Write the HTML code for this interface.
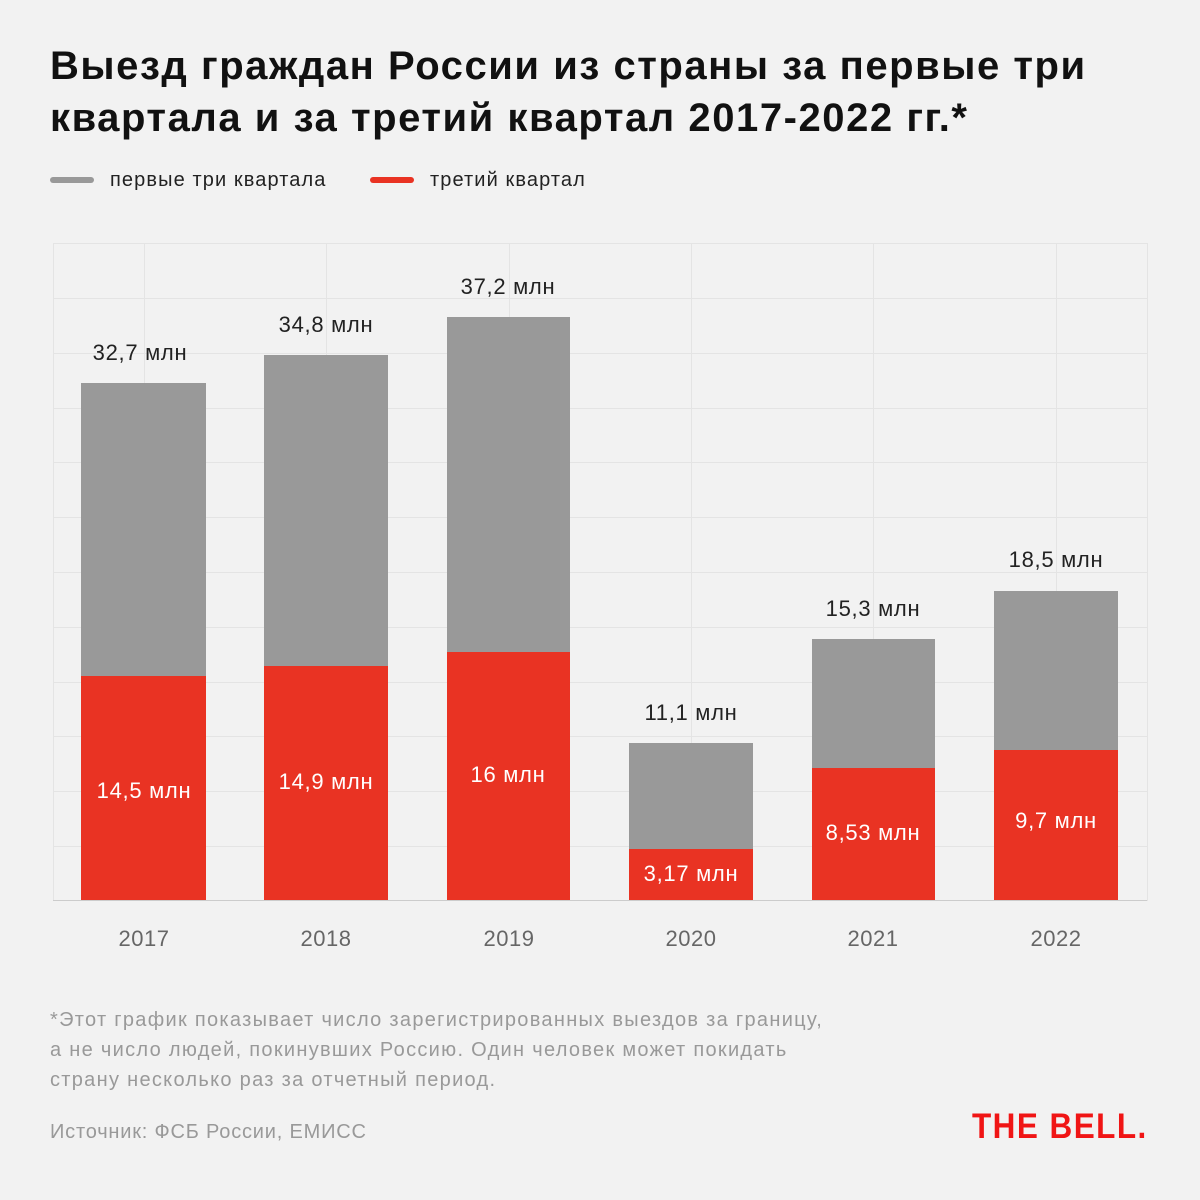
<!DOCTYPE html><html><head><meta charset="utf-8"><style>
body{margin:0;width:1200px;height:1200px;background:#f2f2f2;font-family:"Liberation Sans","DejaVu Sans",sans-serif;position:relative;overflow:hidden}
div{position:absolute;white-space:nowrap}
.t{left:50px;font-size:40px;font-weight:bold;color:#111;letter-spacing:1.55px}
.g{background:#999}.r{background:#e93323}
.hl{left:53px;width:1094px;height:1px;background:#e4e4e4}
.vl{top:243px;height:658px;width:1px;background:#e4e4e4}
.lab{font-size:22px;color:#222;text-align:center;width:200px;letter-spacing:0.7px}
.wl{font-size:22px;color:#fff;text-align:center;width:200px;letter-spacing:0.7px}
.yr{font-size:22px;color:#666;text-align:center;width:200px;top:926px;letter-spacing:0.5px}
.fn{left:50px;font-size:20px;color:#999;letter-spacing:1.3px}
</style></head><body>
<div class="t" style="top:44px">Выезд граждан России из страны за первые три</div>
<div class="t" style="top:96px">квартала и за третий квартал 2017-2022 гг.*</div>
<div style="left:50px;top:177px;width:44px;height:6px;border-radius:3px;background:#999"></div>
<div style="left:110px;top:169px;font-size:20px;color:#222;letter-spacing:1.1px">первые три квартала</div>
<div style="left:370px;top:177px;width:44px;height:6px;border-radius:3px;background:#e93323"></div>
<div style="left:430px;top:169px;font-size:20px;color:#222;letter-spacing:1.1px">третий квартал</div>
<div class="hl" style="top:243px"></div><div class="hl" style="top:298px"></div><div class="hl" style="top:353px"></div><div class="hl" style="top:408px"></div><div class="hl" style="top:462px"></div><div class="hl" style="top:517px"></div><div class="hl" style="top:572px"></div><div class="hl" style="top:627px"></div><div class="hl" style="top:682px"></div><div class="hl" style="top:736px"></div><div class="hl" style="top:791px"></div><div class="hl" style="top:846px"></div>
<div class="vl" style="left:53px"></div><div class="vl" style="left:144px"></div><div class="vl" style="left:326px"></div><div class="vl" style="left:509px"></div><div class="vl" style="left:691px"></div><div class="vl" style="left:873px"></div><div class="vl" style="left:1056px"></div><div class="vl" style="left:1147px"></div>
<div class="g" style="left:81px;width:125px;top:383px;height:518px"></div><div class="r" style="left:81px;width:125px;top:676px;height:225px"></div>
<div class="g" style="left:264px;width:124px;top:355px;height:546px"></div><div class="r" style="left:264px;width:124px;top:666px;height:235px"></div>
<div class="g" style="left:447px;width:123px;top:317px;height:584px"></div><div class="r" style="left:447px;width:123px;top:652px;height:249px"></div>
<div class="g" style="left:629px;width:124px;top:743px;height:158px"></div><div class="r" style="left:629px;width:124px;top:849px;height:52px"></div>
<div class="g" style="left:812px;width:123px;top:639px;height:262px"></div><div class="r" style="left:812px;width:123px;top:768px;height:133px"></div>
<div class="g" style="left:994px;width:124px;top:591px;height:310px"></div><div class="r" style="left:994px;width:124px;top:750px;height:151px"></div>
<div style="left:53px;top:900px;width:1094px;height:1px;background:#ccc"></div>
<div class="lab" style="left:40px;top:340px">32,7 млн</div>
<div class="lab" style="left:226px;top:312px">34,8 млн</div>
<div class="lab" style="left:408px;top:274px">37,2 млн</div>
<div class="lab" style="left:591px;top:700px">11,1 млн</div>
<div class="lab" style="left:773px;top:596px">15,3 млн</div>
<div class="lab" style="left:956px;top:547px">18,5 млн</div>
<div class="wl" style="left:44px;top:778px">14,5 млн</div>
<div class="wl" style="left:226px;top:769px">14,9 млн</div>
<div class="wl" style="left:408px;top:762px">16 млн</div>
<div class="wl" style="left:591px;top:861px">3,17 млн</div>
<div class="wl" style="left:773px;top:820px">8,53 млн</div>
<div class="wl" style="left:956px;top:808px">9,7 млн</div>
<div class="yr" style="left:44px">2017</div><div class="yr" style="left:226px">2018</div><div class="yr" style="left:409px">2019</div><div class="yr" style="left:591px">2020</div><div class="yr" style="left:773px">2021</div><div class="yr" style="left:956px">2022</div>
<div class="fn" style="top:1009px">*Этот график показывает число зарегистрированных выездов за границу,</div>
<div class="fn" style="top:1039px">а не число людей, покинувших Россию. Один человек может покидать</div>
<div class="fn" style="top:1069px">страну несколько раз за отчетный период.</div>
<div class="fn" style="top:1121px;letter-spacing:0.8px">Источник: ФСБ России, ЕМИСС</div>
<div style="left:972px;top:1107px;font-size:35px;font-weight:bold;color:#f01515;letter-spacing:1.6px;transform:scaleX(0.9);transform-origin:left">THE BELL.</div>
</body></html>
